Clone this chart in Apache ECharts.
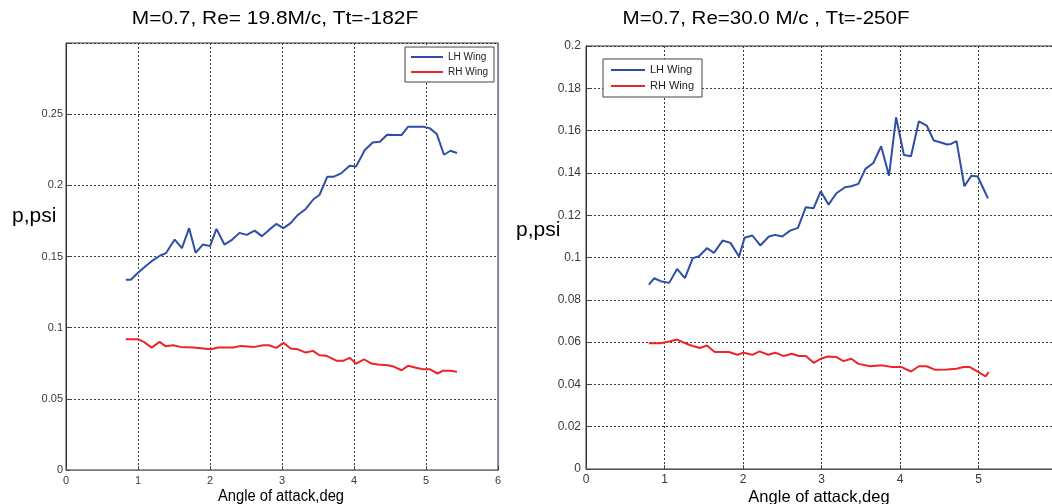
<!DOCTYPE html>
<html>
<head>
<meta charset="utf-8">
<script src="https://cdn.jsdelivr.net/npm/echarts@6/dist/echarts.min.js"></script>
<style>
  html, body { margin: 0; padding: 0; background: #fff; }
  #chart { width: 1052px; height: 504px; }
</style>
</head>
<body>
<div id="chart"></div>
<script>
// Run 1: M=0.7, Re=19.8 M/c, Tt=-182F
const ALPHA_LH_19 = [0.83,0.90,1.00,1.10,1.19,1.31,1.39,1.51,1.61,1.71,1.80,1.90,2.00,2.09,2.20,2.31,2.41,2.51,2.62,2.72,2.82,2.92,3.02,3.12,3.22,3.33,3.44,3.52,3.63,3.72,3.82,3.94,4.03,4.15,4.26,4.36,4.46,4.56,4.66,4.75,4.86,4.96,5.05,5.15,5.25,5.34,5.43];
const P_LH_19 = [0.1337,0.1337,0.1386,0.1430,0.1467,0.1507,0.1524,0.1619,0.1559,0.1699,0.1526,0.1584,0.1573,0.1694,0.1584,0.1619,0.1666,0.1652,0.1682,0.1643,0.1687,0.1729,0.1699,0.1734,0.1792,0.1834,0.1904,0.1932,0.2061,0.2061,0.2084,0.2138,0.2133,0.2248,0.2301,0.2306,0.2355,0.2353,0.2353,0.2411,0.2411,0.2411,0.2402,0.2360,0.2215,0.2243,0.2227];
const ALPHA_RH_19 = [0.83,1.00,1.08,1.19,1.30,1.38,1.49,1.59,1.77,2.01,2.11,2.32,2.43,2.62,2.74,2.82,2.92,3.02,3.12,3.22,3.33,3.43,3.52,3.62,3.76,3.85,3.94,4.03,4.14,4.24,4.33,4.47,4.56,4.66,4.75,4.86,4.96,5.05,5.16,5.23,5.34,5.43];
const P_RH_19 = [0.0919,0.0919,0.0900,0.0860,0.0900,0.0870,0.0876,0.0865,0.0860,0.0848,0.0860,0.0860,0.0872,0.0865,0.0876,0.0876,0.0858,0.0893,0.0853,0.0848,0.0825,0.0837,0.0806,0.0802,0.0767,0.0767,0.0788,0.0748,0.0778,0.0748,0.0741,0.0736,0.0725,0.0701,0.0732,0.0718,0.0708,0.0708,0.0678,0.0697,0.0697,0.0690];

// Run 2: M=0.7, Re=30.0 M/c, Tt=-250F
const ALPHA_LH_30 = [0.80,0.87,0.95,1.06,1.16,1.26,1.36,1.44,1.54,1.63,1.74,1.84,1.95,2.02,2.12,2.22,2.33,2.41,2.50,2.60,2.70,2.80,2.90,2.99,3.09,3.19,3.30,3.38,3.47,3.56,3.66,3.76,3.86,3.95,4.05,4.14,4.24,4.34,4.43,4.51,4.60,4.65,4.72,4.82,4.91,4.99,5.12];
const P_LH_30 = [0.0872,0.0902,0.0888,0.0880,0.0946,0.0902,0.0997,0.1006,0.1044,0.1022,0.1080,0.1069,0.1005,0.1093,0.1104,0.1057,0.1099,0.1107,0.1099,0.1127,0.1140,0.1238,0.1233,0.1313,0.1250,0.1304,0.1332,0.1337,0.1348,0.1419,0.1447,0.1526,0.1387,0.1663,0.1485,0.1479,0.1644,0.1624,0.1553,0.1545,0.1534,0.1537,0.1550,0.1337,0.1387,0.1383,0.1280];
const ALPHA_RH_30 = [0.80,0.95,1.06,1.16,1.25,1.34,1.45,1.54,1.64,1.82,1.93,2.01,2.12,2.21,2.32,2.41,2.52,2.62,2.71,2.80,2.90,2.99,3.08,3.19,3.28,3.38,3.47,3.62,3.77,3.90,4.02,4.14,4.24,4.34,4.45,4.60,4.72,4.81,4.89,5.00,5.09,5.13];
const P_RH_30 = [0.0595,0.0595,0.0603,0.0612,0.0597,0.0584,0.0572,0.0584,0.0553,0.0553,0.0540,0.0550,0.0540,0.0556,0.0540,0.0550,0.0534,0.0545,0.0534,0.0534,0.0502,0.0521,0.0532,0.0529,0.0510,0.0521,0.0497,0.0486,0.0490,0.0482,0.0482,0.0461,0.0486,0.0486,0.0469,0.0471,0.0474,0.0482,0.0482,0.0458,0.0438,0.0458];

// Tick labels
const X_TICKS_19 = ['0','1','2','3','4','5','6'];
const X_TICKS_30 = ['0','1','2','3','4','5',''];
const Y_TICKS_19 = ['0','0.05','0.1','0.15','0.2','0.25',''];
const Y_TICKS_30 = ['0','0.02','0.04','0.06','0.08','0.1','0.12','0.14','0.16','0.18','0.2'];

const TITLE_19 = 'M=0.7, Re= 19.8M/c, Tt=-182F';
const TITLE_30 = 'M=0.7, Re=30.0 M/c , Tt=-250F';
const SERIES_NAMES = ['LH Wing', 'RH Wing'];
const Y_NAME = 'p,psi';
const X_NAME = 'Angle of attack,deg';

const FONT = '"Liberation Sans", Arial, Helvetica, sans-serif';
const BLUE = '#2f4ea8';
const RED = '#ee2428';

const pairs = (xs, ys) => xs.map((x, i) => [x, ys[i]]);

const gridLine = { show: true, lineStyle: { color: '#3a3a3a', type: [2, 2], width: 1 } };

function xAxisFor(gridIndex, ticks, fontSize, lineColor) {
  return {
    type: 'value', gridIndex, min: 0, max: 6, interval: 1,
    axisLine: { show: true, onZero: false, lineStyle: { color: lineColor, width: 1.2 } },
    axisTick: { show: true, inside: true, length: 4, lineStyle: { color: '#444' } },
    axisLabel: { color: '#3a3a3a', fontSize, fontFamily: FONT, margin: 5,
      formatter: (v, i) => ticks[i] },
    splitLine: gridLine
  };
}
function yAxisFor(gridIndex, max, interval, ticks, fontSize, margin) {
  return {
    type: 'value', gridIndex, min: 0, max, interval,
    axisLine: { show: true, lineStyle: { color: '#333', width: 1 } },
    axisTick: { show: true, inside: true, length: 4, lineStyle: { color: '#444' } },
    axisLabel: { color: '#3a3a3a', fontSize, fontFamily: FONT, margin,
      formatter: (v, i) => ticks[i] },
    splitLine: gridLine
  };
}
function lineSeries(name, color, xi, yi, data) {
  return {
    name, type: 'line', xAxisIndex: xi, yAxisIndex: yi, data,
    showSymbol: false, symbol: 'none', animation: false,
    lineStyle: { color, width: 2 }, itemStyle: { color }
  };
}
// Plain text label; stretch widens the glyphs horizontally about the anchor
function text(str, x, y, size, align, stretch) {
  return { type: 'text', x, y, silent: true, scaleX: stretch || 1,
    style: { text: str, font: size + 'px ' + FONT, fill: '#000', align, verticalAlign: 'middle' } };
}

const chart = echarts.init(document.getElementById('chart'), null, { renderer: 'canvas' });
chart.setOption({
  backgroundColor: '#fff',
  animation: false,
  grid: [
    { left: 66, top: 43, width: 432, height: 427, outerBoundsMode: 'none', containLabel: false,
      show: true, borderColor: '#333', borderWidth: 1, backgroundColor: '#fff' },
    { left: 586, top: 46, width: 471, height: 423, outerBoundsMode: 'none', containLabel: false,
      show: true, borderColor: '#333', borderWidth: 1, backgroundColor: '#fff' }
  ],
  xAxis: [
    xAxisFor(0, X_TICKS_19, 11, '#7a7a7a'),
    xAxisFor(1, X_TICKS_30, 12, '#555')
  ],
  yAxis: [
    yAxisFor(0, 0.3, 0.05, Y_TICKS_19, 11, 3),
    yAxisFor(1, 0.2, 0.02, Y_TICKS_30, 12, 5),
    { type: 'value', gridIndex: 0, position: 'right', min: 0, max: 0.3, interval: 0.05,
      axisLine: { show: true, lineStyle: { color: '#7c7cb8', width: 1.2 } },
      axisTick: { show: false }, axisLabel: { show: false }, splitLine: { show: false } }
  ],
  legend: [
    { data: SERIES_NAMES, orient: 'vertical', left: 405, top: 47,
      itemWidth: 32, itemHeight: 2, icon: 'rect', itemGap: 3,
      padding: [4, 6, 4, 6], borderColor: '#444', borderWidth: 1, backgroundColor: '#fff',
      textStyle: { fontSize: 10, fontFamily: FONT, color: '#222', lineHeight: 12 } },
    { data: SERIES_NAMES, orient: 'vertical', left: 603, top: 59,
      itemWidth: 34, itemHeight: 2, icon: 'rect', itemGap: 4,
      padding: [5, 8, 5, 8], borderColor: '#444', borderWidth: 1, backgroundColor: '#fff',
      textStyle: { fontSize: 11, fontFamily: FONT, color: '#222', lineHeight: 12 } }
  ],
  series: [
    lineSeries(SERIES_NAMES[0], BLUE, 0, 0, pairs(ALPHA_LH_19, P_LH_19)),
    lineSeries(SERIES_NAMES[1], RED, 0, 0, pairs(ALPHA_RH_19, P_RH_19)),
    lineSeries(SERIES_NAMES[0], BLUE, 1, 1, pairs(ALPHA_LH_30, P_LH_30)),
    lineSeries(SERIES_NAMES[1], RED, 1, 1, pairs(ALPHA_RH_30, P_RH_30))
  ],
  graphic: [
    text(TITLE_19, 275, 19, 19, 'center', 1.1),
    text(TITLE_30, 766, 19, 19, 'center', 1.08),
    text(Y_NAME, 12, 216, 20, 'left', 1.05),
    text(Y_NAME, 516, 230, 20, 'left', 1.05),
    text(X_NAME, 281, 497, 16, 'center', 0.92),
    text(X_NAME, 819, 497, 16.5, 'center', 1.0)
  ]
});
</script>
</body>
</html>
